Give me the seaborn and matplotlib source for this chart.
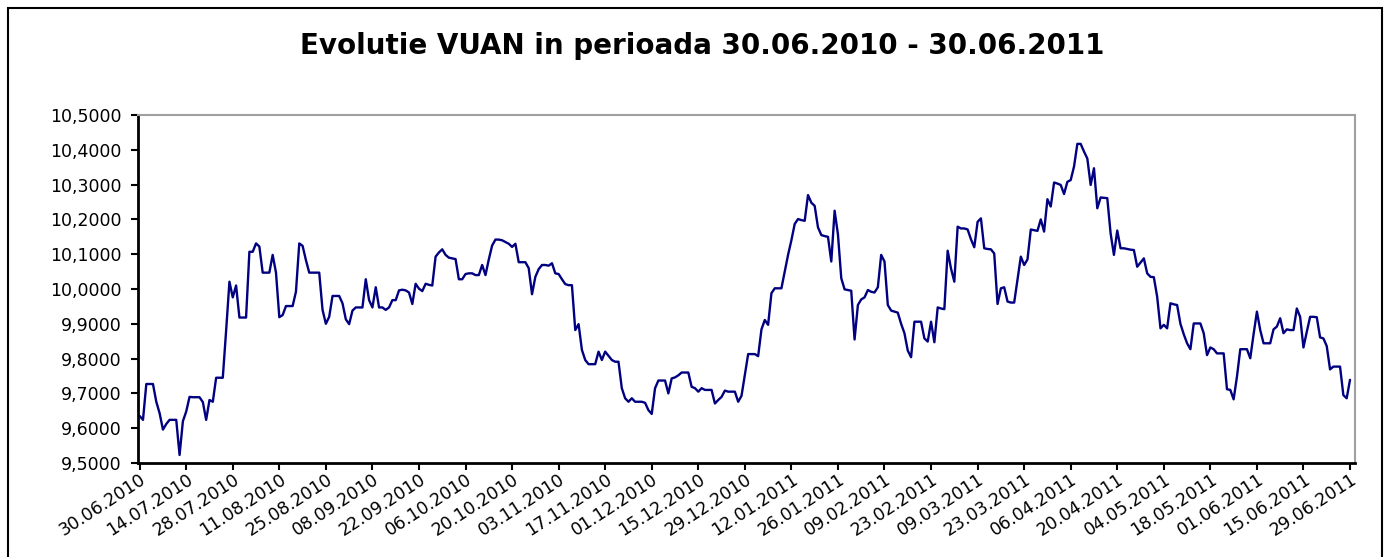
import numpy as np
import pandas as pd
import matplotlib
matplotlib.use("Agg")
import matplotlib.pyplot as plt
from matplotlib.ticker import FuncFormatter
from matplotlib.patches import Rectangle
import seaborn as sns

# ---------------- data ----------------
start_date = "2010-06-30"

# daily VUAN values (weekends repeat Friday), rows = calendar weeks Mon..Sun
vuan_values = [
    9.635, 9.624, 9.727, 9.727, 9.727,
    9.676, 9.643, 9.596, 9.612, 9.624, 9.624, 9.624,
    9.523, 9.620, 9.648, 9.690, 9.689, 9.689, 9.689,
    9.675, 9.624, 9.681, 9.676, 9.745, 9.745, 9.745,
    9.880, 10.021, 9.976, 10.010, 9.918, 9.918, 9.918,
    10.107, 10.107, 10.131, 10.122, 10.047, 10.047, 10.047,
    10.098, 10.047, 9.919, 9.925, 9.951, 9.951, 9.951,
    9.992, 10.131, 10.124, 10.083, 10.047, 10.047, 10.047,
    10.047, 9.940, 9.900, 9.920, 9.980, 9.980, 9.980,
    9.959, 9.913, 9.899, 9.938, 9.947, 9.947, 9.947,
    10.028, 9.968, 9.947, 10.005, 9.947, 9.947, 9.940,
    9.947, 9.968, 9.968, 9.996, 9.998, 9.996, 9.990,
    9.957, 10.015, 10.001, 9.994, 10.015, 10.012, 10.010,
    10.093, 10.105, 10.114, 10.098, 10.090, 10.088, 10.086,
    10.028, 10.028, 10.043, 10.045, 10.045, 10.040, 10.040,
    10.069, 10.040, 10.085, 10.125, 10.142, 10.142, 10.140,
    10.135, 10.130, 10.121, 10.130, 10.077, 10.077, 10.077,
    10.060, 9.985, 10.035, 10.057, 10.069, 10.069, 10.067,
    10.074, 10.045, 10.043, 10.028, 10.014, 10.011, 10.011,
    9.882, 9.899, 9.825, 9.796, 9.784, 9.784, 9.784,
    9.820, 9.796, 9.820, 9.808, 9.796, 9.791, 9.791,
    9.715, 9.686, 9.676, 9.686, 9.676, 9.676, 9.676,
    9.673, 9.652, 9.641, 9.715, 9.737, 9.737, 9.737,
    9.700, 9.743, 9.746, 9.752, 9.760, 9.760, 9.760,
    9.719, 9.715, 9.705, 9.715, 9.710, 9.710, 9.710,
    9.671, 9.681, 9.690, 9.708, 9.705, 9.705, 9.705,
    9.676, 9.693, 9.753, 9.813, 9.813, 9.813, 9.807,
    9.884, 9.911, 9.897, 9.988, 10.002, 10.002, 10.002,
    10.050, 10.098, 10.140, 10.187, 10.201, 10.198, 10.196,
    10.270, 10.248, 10.239, 10.177, 10.155, 10.152, 10.150,
    10.079, 10.225, 10.157, 10.031, 9.999, 9.997, 9.995,
    9.855, 9.954, 9.970, 9.976, 9.997, 9.992, 9.990,
    10.005, 10.098, 10.079, 9.954, 9.938, 9.935, 9.932,
    9.900, 9.873, 9.823, 9.804, 9.906, 9.906, 9.906,
    9.858, 9.849, 9.906, 9.847, 9.947, 9.944, 9.942,
    10.110, 10.059, 10.021, 10.179, 10.174, 10.174, 10.171,
    10.143, 10.120, 10.193, 10.203, 10.117, 10.115, 10.114,
    10.102, 9.957, 10.002, 10.005, 9.964, 9.961, 9.961,
    10.026, 10.093, 10.069, 10.085, 10.171, 10.169, 10.167,
    10.200, 10.165, 10.258, 10.237, 10.306, 10.303, 10.299,
    10.273, 10.308, 10.313, 10.352, 10.417, 10.417, 10.395,
    10.375, 10.299, 10.347, 10.232, 10.263, 10.262, 10.261,
    10.160, 10.098, 10.168, 10.117, 10.117, 10.115, 10.113,
    10.112, 10.064, 10.076, 10.088, 10.045, 10.035, 10.034,
    9.978, 9.887, 9.897, 9.887, 9.959, 9.956, 9.954,
    9.900, 9.870, 9.844, 9.827, 9.901, 9.901, 9.901,
    9.873, 9.810, 9.832, 9.827, 9.815, 9.815, 9.815,
    9.712, 9.710, 9.683, 9.748, 9.827, 9.827, 9.827,
    9.801, 9.870, 9.935, 9.882, 9.844, 9.844, 9.844,
    9.884, 9.892, 9.916, 9.873, 9.884, 9.882, 9.882,
    9.944, 9.920, 9.832, 9.877, 9.920, 9.920, 9.919,
    9.861, 9.858, 9.836, 9.769, 9.777, 9.777, 9.777,
    9.695, 9.686, 9.739,
]

tick_labels = [
    "30.06.2010", "14.07.2010", "28.07.2010", "11.08.2010", "25.08.2010",
    "08.09.2010", "22.09.2010", "06.10.2010", "20.10.2010", "03.11.2010",
    "17.11.2010", "01.12.2010", "15.12.2010", "29.12.2010", "12.01.2011",
    "26.01.2011", "09.02.2011", "23.02.2011", "09.03.2011", "23.03.2011",
    "06.04.2011", "20.04.2011", "04.05.2011", "18.05.2011", "01.06.2011",
    "15.06.2011", "29.06.2011",
]

y_ticks = [9.5, 9.6, 9.7, 9.8, 9.9, 10.0, 10.1, 10.2, 10.3, 10.4, 10.5]

title_text = "Evolutie VUAN in perioada 30.06.2010 - 30.06.2011"

# ---------------- plot ----------------
dates = pd.date_range(start_date, periods=len(vuan_values), freq="D")
df = pd.DataFrame({"Data": dates, "VUAN": vuan_values})

sns.set_style("white")
plt.rcParams["font.family"] = ["DejaVu Sans"]

W, H = 1389, 557
fig = plt.figure(figsize=(W / 100, H / 100), dpi=100)
ax = fig.add_axes([138 / W, 1 - 463 / H, (1355 - 138) / W, (463 - 115) / H])

sns.lineplot(data=df, x="Data", y="VUAN", ax=ax, color="#000080", linewidth=1.7)

tick_dates = pd.to_datetime(tick_labels, format="%d.%m.%Y")
ax.set_xticks(tick_dates)
ax.set_xticklabels(tick_labels, rotation=33, ha="right", va="top",
                   rotation_mode="anchor", fontsize=12.5)
ax.set_xlim(dates[0] - pd.Timedelta(hours=12), dates[-1] + pd.Timedelta(hours=36))

ax.set_ylim(9.5, 10.5)
ax.set_yticks(y_ticks)
ax.yaxis.set_major_formatter(FuncFormatter(lambda v, p: f"{v:.4f}".replace(".", ",")))
ax.tick_params(axis="y", labelsize=12.5)

ax.set_xlabel("")
ax.set_ylabel("")
ax.grid(False)

ax.tick_params(axis="both", which="major", direction="out", bottom=True, left=True,
               length=5, width=1.5, color="black", labelcolor="black")
ax.tick_params(axis="y", pad=7)
ax.tick_params(axis="x", pad=0)

for side in ["left", "bottom"]:
    ax.spines[side].set_color("black")
    ax.spines[side].set_linewidth(2.0)
for side in ["top", "right"]:
    ax.spines[side].set_color("#a0a0a0")
    ax.spines[side].set_linewidth(1.5)

fig.text((298 + 1107) / 2 / W, 1 - 46 / H, title_text, ha="center", va="center",
         fontsize=20, fontweight="bold", color="black")

frame = Rectangle((8 / W, -0.1), (1382 - 8) / W, (1 - 8 / H) + 0.1,
                  transform=fig.transFigure, fill=False, edgecolor="black",
                  linewidth=1.5, clip_on=False)
fig.add_artist(frame)

fig.savefig("out.png", dpi=100, facecolor="white")
